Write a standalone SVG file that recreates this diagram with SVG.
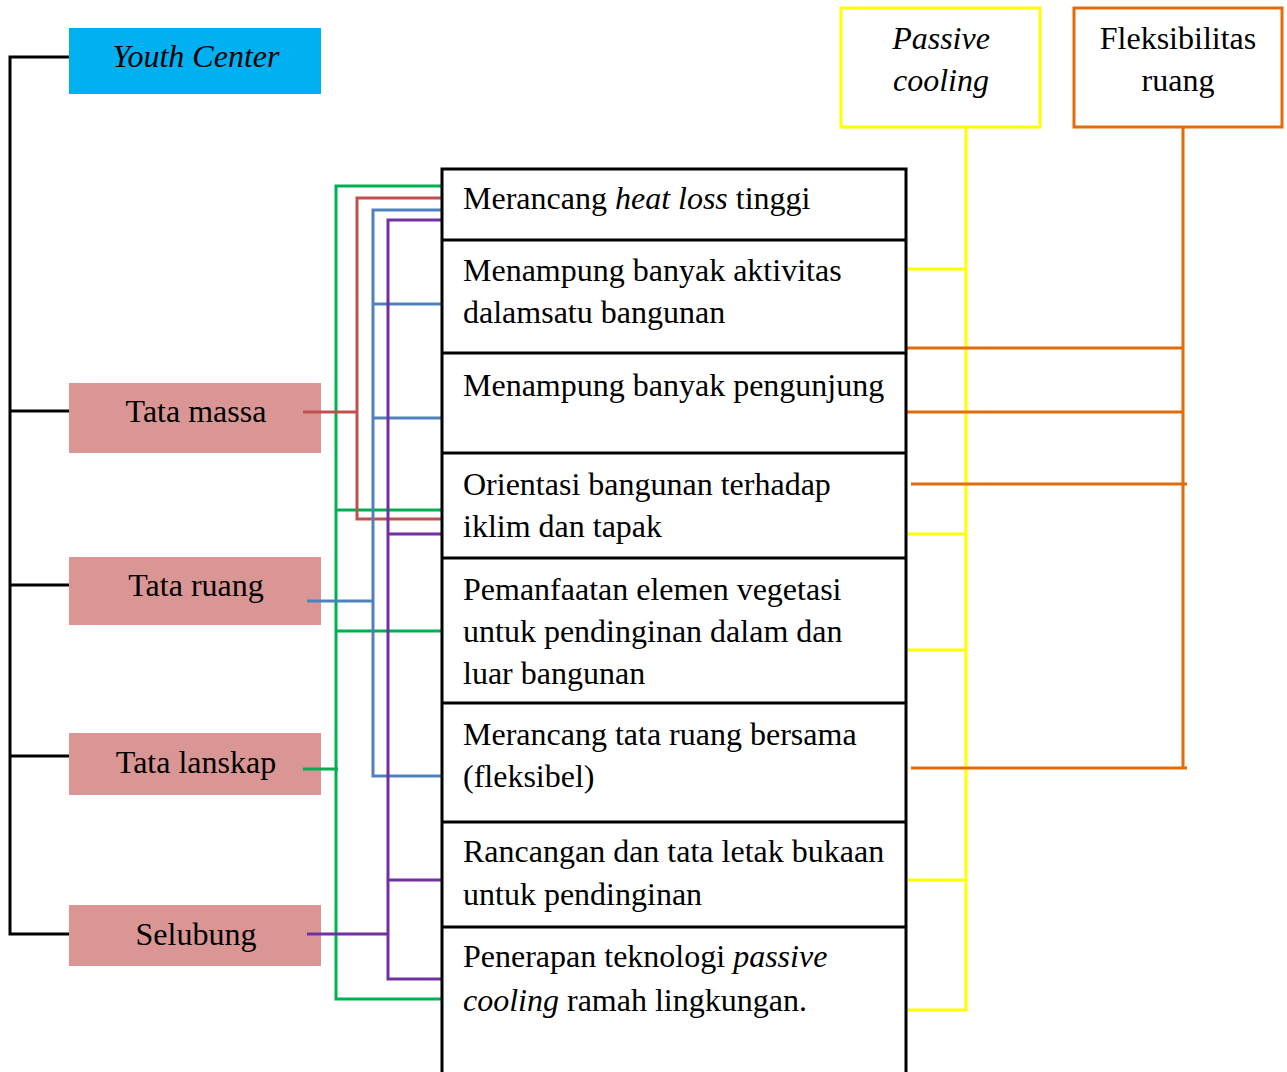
<svg xmlns="http://www.w3.org/2000/svg" width="1287" height="1072" viewBox="0 0 1287 1072">
<style>
text{font-family:"Liberation Serif","Times New Roman",serif;font-size:32px;fill:#000}
.c{text-anchor:middle}
.i{font-style:italic}
.blk{stroke:#000;stroke-width:3;fill:none}
.pink{fill:#D99694}
.g{stroke:#00B050;stroke-width:3;fill:none}
.r{stroke:#C0504D;stroke-width:3;fill:none}
.b{stroke:#4F81BD;stroke-width:3;fill:none}
.p{stroke:#7030A0;stroke-width:3;fill:none}
.y{stroke:#FFFF00;stroke-width:3;fill:none}
.o{stroke:#E36C09;stroke-width:3;fill:none}
</style>
<rect width="1287" height="1072" fill="#fff"/>
<g id="youth-center"><rect x="69" y="28" width="252" height="66" fill="#00B0F0"/><text class="c i" x="196" y="67">Youth Center</text></g>
<g id="tata-massa"><rect class="pink" x="69" y="383" width="252" height="70"/><text class="c" x="196" y="422">Tata massa</text></g>
<g id="tata-ruang"><rect class="pink" x="69" y="557" width="252" height="68"/><text class="c" x="196" y="596">Tata ruang</text></g>
<g id="tata-lanskap"><rect class="pink" x="69" y="733" width="252" height="62"/><text class="c" x="196" y="773">Tata lanskap</text></g>
<g id="selubung"><rect class="pink" x="69" y="905" width="252" height="61"/><text class="c" x="196" y="945">Selubung</text></g>
<g id="passive-cooling"><rect x="841" y="8" width="199" height="119" fill="#fff" stroke="#FFFF00" stroke-width="3"/><text class="c i" x="941" y="49">Passive</text><text class="c i" x="941" y="91">cooling</text></g>
<g id="fleksibilitas"><rect x="1074" y="8" width="208" height="119" fill="#fff" stroke="#E36C09" stroke-width="3"/><text class="c" x="1178" y="49">Fleksibilitas</text><text class="c" x="1178" y="91">ruang</text></g>
<g id="connectors">
<path class="blk" d="M69,57H10V934H69M10,411H69M10,585H69M10,756H69"/>
<path class="g" d="M442,186H336V999H442M336,510H442M336,631H442M303,769H338"/>
<path class="r" d="M442,198H357V519H442M303,412H357"/>
<path class="b" d="M442,210H373V776H442M373,304H442M373,418H442M307,601H373"/>
<path class="p" d="M442,220H388V979H442M388,534H442M388,880H442M307,934H388"/>
<path class="y" d="M966,127V1010H906M906,269H966M906,534H966M906,650H966M906,880H966"/>
<path class="o" d="M1183,127V768M906,348H1183M905,412H1183M911,484H1187M911,768H1187"/>
</g>
<g id="table">
<path class="blk" d="M442,1072V169H906V1072M442,240H906M442,353H906M442,453H906M442,558H906M442,703H906M442,822H906M442,927H906"/>
</g>
<g id="row1"><text x="463" y="209">Merancang <tspan class="i">heat loss</tspan> tinggi</text></g>
<g id="row2"><text x="463" y="281">Menampung banyak aktivitas</text><text x="463" y="323">dalamsatu bangunan</text></g>
<g id="row3"><text x="463" y="396">Menampung banyak pengunjung</text></g>
<g id="row4"><text x="463" y="495">Orientasi bangunan terhadap</text><text x="463" y="537">iklim dan tapak</text></g>
<g id="row5"><text x="463" y="600">Pemanfaatan elemen vegetasi</text><text x="463" y="642">untuk pendinginan dalam dan</text><text x="463" y="684">luar bangunan</text></g>
<g id="row6"><text x="463" y="745">Merancang tata ruang bersama</text><text x="463" y="787">(fleksibel)</text></g>
<g id="row7"><text x="463" y="862">Rancangan dan tata letak bukaan</text><text x="463" y="905">untuk pendinginan</text></g>
<g id="row8"><text x="463" y="967">Penerapan teknologi <tspan class="i">passive</tspan></text><text x="463" y="1011"><tspan class="i">cooling</tspan> ramah lingkungan.</text></g>
</svg>
